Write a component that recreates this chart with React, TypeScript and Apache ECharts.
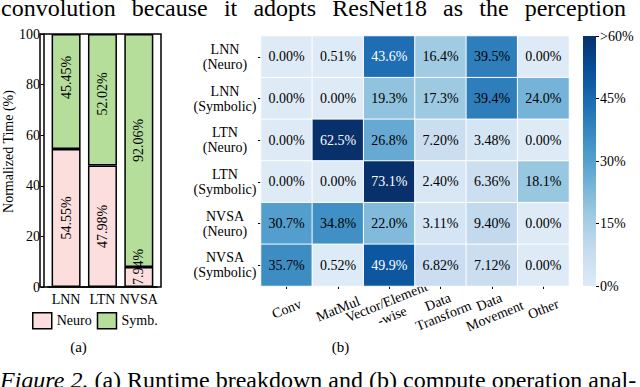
import React, { useEffect, useRef } from 'react';
import * as echarts from 'echarts';

const FONT = 'Liberation Serif';

const barCategories = ['LNN', 'LTN', 'NVSA'];
const neuroValues = [54.55, 47.98, 7.94];
const symbValues = [45.45, 52.02, 92.06];
const neuroLabelShift = [0, 0, -10];
const symbLabelShift = [-14, -6, -10];

const heatRows = ['LNN\n(Neuro)', 'LNN\n(Symbolic)', 'LTN\n(Neuro)', 'LTN\n(Symbolic)', 'NVSA\n(Neuro)', 'NVSA\n(Symbolic)'];
const heatCols = ['Conv', 'MatMul', 'Vector/Element\n-wise', 'Data\nTransform', 'Data\nMovement', 'Other'];
const rowLnnNeuro = [0.0, 0.51, 43.6, 16.4, 39.5, 0.0];
const rowLnnSymbolic = [0.0, 0.0, 19.3, 17.3, 39.4, 24.0];
const rowLtnNeuro = [0.0, 62.5, 26.8, 7.2, 3.48, 0.0];
const rowLtnSymbolic = [0.0, 0.0, 73.1, 2.4, 6.36, 18.1];
const rowNvsaNeuro = [30.7, 34.8, 22.0, 3.11, 9.4, 0.0];
const rowNvsaSymbolic = [35.7, 0.52, 49.9, 6.82, 7.12, 0.0];
const heatValues = [rowLnnNeuro, rowLnnSymbolic, rowLtnNeuro, rowLtnSymbolic, rowNvsaNeuro, rowNvsaSymbolic];

const colorbarMax = 60;
const colorbarStep = 15;
const blues = ['#deebf7', '#c6dbef', '#9ecae1', '#6baed6', '#4292c6', '#2171b5', '#08519c', '#08306b'];

const topText = 'convolution because it adopts ResNet18 as the perception';
const captionLead = 'Figure 2.';
const captionRest = ' (a) Runtime breakdown and (b) compute operation anal-';

const fmtPct = (v: number) => (v < 10 ? v.toFixed(2) : v.toFixed(1)) + '%';

function justifiedWords(text: string, font: string, x0: number, x1: number, y: number) {
  const words = text.split(' ');
  const ctx = document.createElement('canvas').getContext('2d')!;
  ctx.font = font;
  const widths = words.map((w) => ctx.measureText(w).width);
  const total = widths.reduce((a, b) => a + b, 0);
  const gap = (x1 - x0 - total) / (words.length - 1);
  let x = x0;
  return words.map((w, i) => {
    const el = {
      type: 'text',
      x,
      y,
      style: { text: w, font, fill: '#000', verticalAlign: 'top' },
    };
    x += widths[i] + gap;
    return el;
  });
}

export default function App() {
  const ref = useRef<HTMLDivElement>(null);

  useEffect(() => {
    document.body.style.margin = '0';
    const chart = echarts.init(ref.current!, null, { renderer: 'svg' });

    const heatData: any[] = [];
    heatValues.forEach((row, r) => {
      row.forEach((v, c) => {
        heatData.push({
          value: [c, r, Math.min(v, colorbarMax), v],
          label: { color: v > 40 ? '#ffffff' : '#000000' },
        });
      });
    });

    const gradStops = blues.map((c, i) => ({ offset: i / (blues.length - 1), color: c }));
    const textFont = '24px "Liberation Serif"';

    const barLabel = {
      show: true,
      position: 'inside',
      rotate: 90,
      fontSize: 14,
      color: '#000',
      fontFamily: FONT,
      formatter: (p: any) => Number(p.value).toFixed(2) + '%',
    };

    const option: any = {
      animation: false,
      textStyle: { fontFamily: FONT, color: '#000' },
      grid: [
        { left: 44, top: 34, width: 113, height: 253 },
        { left: 261, top: 36, width: 308, height: 250 },
        { left: 583, top: 36, width: 13, height: 250 },
        { left: 40, top: 34, width: 121, height: 253, show: true, borderColor: '#000', borderWidth: 1.5, backgroundColor: 'transparent' },
      ],
      legend: {
        data: ['Neuro', 'Symb.'],
        left: 32,
        top: 312,
        padding: 0,
        itemWidth: 19,
        itemHeight: 16,
        itemGap: 5,
        icon: 'rect',
        selectedMode: false,
        itemStyle: { borderColor: '#000', borderWidth: 1.5 },
        textStyle: { fontFamily: FONT, fontSize: 14, color: '#000' },
      },
      visualMap: {
        type: 'continuous',
        show: false,
        seriesIndex: 2,
        dimension: 2,
        min: 0,
        max: colorbarMax,
        inRange: { color: blues },
      },
      xAxis: [
        {
          type: 'category',
          gridIndex: 0,
          data: barCategories,
          axisLine: { lineStyle: { color: '#000', width: 1.5 } },
          axisTick: { show: false },
          axisLabel: { interval: 0, fontSize: 14, color: '#000', fontFamily: FONT, margin: 5 },
        },
        {
          type: 'category',
          gridIndex: 1,
          data: heatCols,
          axisLine: { show: false },
          axisTick: { show: true, alignWithLabel: true, length: 3, lineStyle: { color: '#000' } },
          axisLabel: {
            interval: 0,
            rotate: 22,
            align: 'center',
            verticalAlign: 'middle',
            margin: 23,
            fontSize: 14,
            lineHeight: 15,
            color: '#000',
            fontFamily: FONT,
          },
          splitLine: { show: false },
        },
        { type: 'category', gridIndex: 2, data: [''], show: false },
        { type: 'value', gridIndex: 3, show: false, splitLine: { show: false } },
      ],
      yAxis: [
        {
          type: 'value',
          gridIndex: 0,
          min: 0,
          max: 100,
          interval: 20,
          offset: 4,
          name: 'Normalized Time (%)',
          nameLocation: 'middle',
          nameGap: 24,
          nameTextStyle: { fontSize: 14, fontFamily: FONT, color: '#000', padding: [0, 0, 0, 18] },
          splitLine: { show: false },
          axisLine: { show: true, lineStyle: { color: '#000', width: 1.5 } },
          axisTick: { show: true, length: 3, lineStyle: { color: '#000' } },
          axisLabel: { fontSize: 14, margin: 4, color: '#000', fontFamily: FONT },
        },
        {
          type: 'category',
          gridIndex: 1,
          data: heatRows,
          inverse: true,
          axisLine: { show: false },
          axisTick: { show: true, alignWithLabel: true, length: 3, lineStyle: { color: '#000' } },
          axisLabel: { interval: 0, align: 'center', margin: 36, fontSize: 14, lineHeight: 15, color: '#000', fontFamily: FONT },
          splitLine: { show: false },
        },
        {
          type: 'value',
          gridIndex: 2,
          position: 'right',
          min: 0,
          max: colorbarMax,
          interval: colorbarStep,
          splitLine: { show: false },
          axisLine: { show: false },
          axisTick: { show: true, length: 3, lineStyle: { color: '#000' } },
          axisLabel: {
            fontSize: 14,
            margin: 4,
            color: '#000',
            fontFamily: FONT,
            formatter: (v: number) => (v >= colorbarMax ? '>' + v + '%' : v + '%'),
          },
        },
        { type: 'value', gridIndex: 3, show: false, splitLine: { show: false } },
      ],
      series: [
        {
          name: 'Neuro',
          type: 'bar',
          xAxisIndex: 0,
          yAxisIndex: 0,
          stack: 'total',
          barWidth: 29,
          data: neuroValues.map((v, i) => ({ value: v, label: { offset: [-neuroLabelShift[i], 0] } })),
          itemStyle: { color: '#fddede', borderColor: '#000', borderWidth: 1.5 },
          label: barLabel,
        },
        {
          name: 'Symb.',
          type: 'bar',
          xAxisIndex: 0,
          yAxisIndex: 0,
          stack: 'total',
          barWidth: 29,
          data: symbValues.map((v, i) => ({ value: v, label: { offset: [-symbLabelShift[i], 0] } })),
          itemStyle: { color: '#b5de9b', borderColor: '#000', borderWidth: 1.5 },
          label: barLabel,
        },
        {
          type: 'heatmap',
          xAxisIndex: 1,
          yAxisIndex: 1,
          data: heatData,
          itemStyle: { borderColor: '#fff', borderWidth: 1 },
          label: {
            show: true,
            fontSize: 14,
            fontFamily: FONT,
            formatter: (p: any) => fmtPct(p.value[3]),
          },
          emphasis: { disabled: true },
        },
        {
          type: 'bar',
          xAxisIndex: 2,
          yAxisIndex: 2,
          data: [colorbarMax],
          barWidth: '100%',
          silent: true,
          itemStyle: { color: new echarts.graphic.LinearGradient(0, 1, 0, 0, gradStops) },
        },
      ],
      graphic: [
        ...justifiedWords(topText, textFont, 1, 626, -4.5),
        {
          type: 'text',
          x: 0,
          y: 368,
          style: {
            text: '{i|' + captionLead + '}' + captionRest,
            font: textFont,
            fill: '#000',
            verticalAlign: 'top',
            rich: { i: { fontStyle: 'italic', fontSize: 24, fontFamily: FONT, fill: '#000' } },
          },
        },
        {
          type: 'text',
          x: 78.5,
          y: 339,
          style: { text: '(a)', font: '15px "Liberation Serif"', fill: '#000', align: 'center', verticalAlign: 'top' },
        },
        {
          type: 'text',
          x: 340.5,
          y: 339,
          style: { text: '(b)', font: '15px "Liberation Serif"', fill: '#000', align: 'center', verticalAlign: 'top' },
        },
      ],
    };

    chart.setOption(option);
    return () => chart.dispose();
  }, []);

  return <div ref={ref} style={{ width: 640, height: 387 }} />;
}
